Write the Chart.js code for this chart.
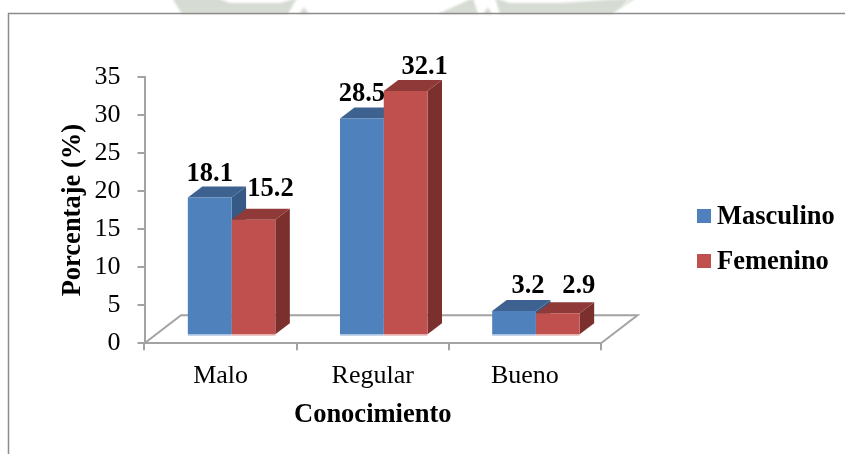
<!DOCTYPE html>
<html>
<head>
<meta charset="utf-8">
<title>Conocimiento</title>
<script src="https://cdn.jsdelivr.net/npm/chart.js@4/dist/chart.umd.min.js"></script>
<style>
html, body { margin: 0; padding: 0; background: #fff; }
#wrap { position: relative; width: 845px; height: 454px; }
</style>
</head>
<body>
<div id="wrap"><canvas id="chart-conocimiento" width="845" height="454"></canvas></div>
<script>
var categories = ['Malo', 'Regular', 'Bueno'];
var masculino = [18.1, 28.5, 3.2];
var femenino = [15.2, 32.1, 2.9];
var yTicks = [0, 5, 10, 15, 20, 25, 30, 35];

var serif = '"Liberation Serif", "Times New Roman", serif';
var axisGray = '#a3a3a3';

// how far the bars sit in from the front edge of the floor
var barShift = { x: 11, y: -8 };
var depth = { x: 14.5, y: -11 };
var floorDepth = { x: 36.5, y: -28 };

// labels were moved by hand in the original, [dx, gap above the bar]
var labelMoves = [
  [[0, 17], [0, 17], [14, 18]],
  [[17, 24], [19, 17], [21, 20]]
];

var sideColors = ['#355a86', '#7b302e'];
var topColors = ['#3d6290', '#8f3a38'];
var edgeColors = ['#b4cbe6', '#e8bcbb'];

function face(ctx, pts, color) {
  ctx.fillStyle = color;
  ctx.beginPath();
  ctx.moveTo(pts[0][0], pts[0][1]);
  for (var i = 1; i < pts.length; i++) ctx.lineTo(pts[i][0], pts[i][1]);
  ctx.closePath();
  ctx.fill();
}

var frame3d = {
  id: 'frame3d',
  beforeDraw: function (chart) {
    var ctx = chart.ctx;
    ctx.save();
    ctx.fillStyle = '#fff';
    ctx.fillRect(0, 0, chart.width, chart.height);
    // watermark showing above the frame
    ctx.save();
    ctx.filter = 'blur(1px)';
    var mark = '#d6dcd3';
    face(ctx, [[172, -2], [217, -2], [230, 3], [280, 3], [297, -2], [288, 14], [182, 14]], mark);
    face(ctx, [[299, 14], [304, 7], [309, 14]], mark);
    face(ctx, [[438, 14], [473, -2], [478, 14]], mark);
    face(ctx, [[483, 14], [488, 7], [492, 14]], mark);
    face(ctx, [[495, -2], [510, 3], [560, 3], [635, -2], [612, 14], [500, 14]], mark);
    ctx.restore();
    face(ctx, [[620, 8], [628, -2], [638, -2]], '#e8ece6');
    ctx.strokeStyle = '#8c8c8c';
    ctx.lineWidth = 1.5;
    ctx.beginPath();
    ctx.moveTo(8.5, 454);
    ctx.lineTo(8.5, 13.5);
    ctx.lineTo(845, 13.5);
    ctx.stroke();
    ctx.restore();
  },
  beforeDatasetsDraw: function (chart) {
    var ctx = chart.ctx, a = chart.chartArea;
    ctx.save();
    ctx.strokeStyle = axisGray;
    ctx.lineWidth = 2;
    ctx.beginPath();
    ctx.moveTo(a.left, a.bottom);
    ctx.lineTo(a.left + floorDepth.x, a.bottom + floorDepth.y);
    ctx.lineTo(a.right + floorDepth.x, a.bottom + floorDepth.y);
    ctx.lineTo(a.right, a.bottom);
    ctx.stroke();
    // sides and tops first, blue then red, the front faces go over them
    ctx.translate(barShift.x, barShift.y);
    chart.data.datasets.forEach(function (ds, i) {
      chart.getDatasetMeta(i).data.forEach(function (bar) {
        var l = bar.x - bar.width / 2, r = bar.x + bar.width / 2;
        var t = bar.y, b = bar.base;
        face(ctx, [[r, t], [r + depth.x, t + depth.y], [r + depth.x, b + depth.y], [r, b]], sideColors[i]);
        face(ctx, [[l, t], [l + depth.x, t + depth.y], [r + depth.x, t + depth.y], [r, t]], topColors[i]);
        ctx.fillStyle = edgeColors[i];
        ctx.fillRect(l, b, bar.width, 1.5);
      });
    });
    ctx.restore();
    // left open until afterDatasetsDraw so the library's bars get shifted too
    ctx.save();
    ctx.translate(barShift.x, barShift.y);
  },
  afterDatasetsDraw: function (chart) {
    var ctx = chart.ctx;
    ctx.restore();
    ctx.save();
    ctx.font = 'bold 26.5px ' + serif;
    ctx.fillStyle = '#000';
    ctx.textAlign = 'center';
    ctx.textBaseline = 'alphabetic';
    chart.data.datasets.forEach(function (ds, i) {
      chart.getDatasetMeta(i).data.forEach(function (bar, j) {
        var mv = labelMoves[i][j];
        ctx.fillText(ds.data[j].toFixed(1), bar.x + barShift.x + mv[0], bar.y + barShift.y - mv[1]);
      });
    });
    // legend
    ctx.textAlign = 'left';
    chart.data.datasets.forEach(function (ds, i) {
      var y = 209 + i * 45;
      ctx.fillStyle = ds.backgroundColor;
      ctx.fillRect(697, y, 14, 14);
      ctx.fillStyle = '#000';
      ctx.fillText(ds.label, 717, y + 15);
    });
    ctx.restore();
  }
};

new Chart(document.getElementById('chart-conocimiento').getContext('2d'), {
  type: 'bar',
  data: {
    labels: categories,
    datasets: [
      { label: 'Masculino', data: masculino, backgroundColor: '#4f81bd', clip: false },
      { label: 'Femenino', data: femenino, backgroundColor: '#c0504d', clip: false }
    ]
  },
  plugins: [frame3d],
  options: {
    responsive: false,
    animation: false,
    layout: { padding: { left: 57, right: 244, top: 77, bottom: 26 } },
    datasets: { bar: { categoryPercentage: 0.575, barPercentage: 1 } },
    plugins: {
      tooltip: { enabled: false },
      legend: { display: false }
    },
    scales: {
      x: {
        grid: { drawOnChartArea: false, tickLength: 7, color: axisGray, lineWidth: 2 },
        border: { color: axisGray, width: 2 },
        ticks: { color: '#000', padding: 10, font: { family: serif, size: 26 } },
        title: { display: true, text: 'Conocimiento', color: '#000', padding: 0, font: { family: serif, size: 26.5, weight: 'bold', lineHeight: 1 } }
      },
      y: {
        min: 0,
        max: 35,
        afterBuildTicks: function (axis) {
          axis.ticks = yTicks.map(function (v) { return { value: v }; });
        },
        afterFit: function (axis) {
          axis.width = 87.5;
        },
        grid: { drawOnChartArea: false, tickLength: 7, color: axisGray, lineWidth: 2 },
        border: { color: axisGray, width: 2 },
        ticks: { color: '#000', padding: 17, font: { family: serif, size: 26 } },
        title: { display: true, text: 'Porcentaje (%)', color: '#000', padding: { top: 0, bottom: 4 }, font: { family: serif, size: 26.5, weight: 'bold' } }
      }
    }
  }
});
</script>
</body>
</html>
